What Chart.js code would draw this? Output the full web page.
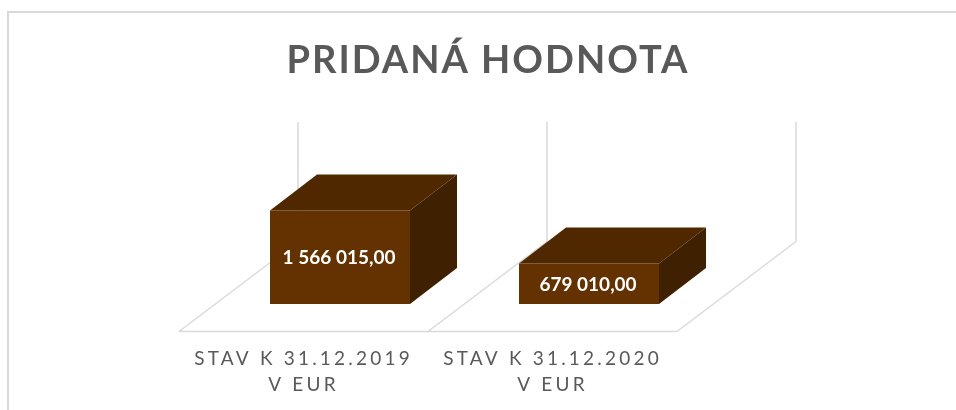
<!DOCTYPE html>
<html><head><meta charset="utf-8">
<style>html,body{margin:0;padding:0;background:#fff;overflow:hidden}canvas{display:block}</style>
<script src="https://cdn.jsdelivr.net/npm/chart.js@4/dist/chart.umd.min.js"></script>
</head><body><canvas id="c" width="956" height="410"></canvas>
<script>
const chartTitle = 'PRIDANÁ HODNOTA';
const categories = [['STAV K 31.12.2019','V EUR'],['STAV K 31.12.2020','V EUR']];
const values = [1566015, 679010];
const valueLabels = ['1 566 015,00','679 010,00'];
const axisMax = 2000000;

const FRONT='#633200', TOP='#4f2800', SIDE='#3f2000', LINE='#d9d9d9', TEXT='#595959';
const barShift=36.5, depthX=47, depthY=36, floorDrop=27.5, wallX=119, wallY=90;

const box3d = {
  id:'box3d',
  beforeDraw(chart){
    const c=chart.ctx;
    c.save();
    c.strokeStyle=LINE; c.lineWidth=2;
    c.beginPath(); c.moveTo(8,410); c.lineTo(8,12); c.lineTo(956,12); c.stroke();
    c.restore();
    c.letterSpacing='2px';
  },
  beforeDatasetsDraw(chart){
    const c=chart.ctx, x=chart.scales.x, y=chart.scales.y;
    const front=y.bottom+floorDrop, back=front-wallY, top=y.getPixelForValue(axisMax)-(wallY-floorDrop);
    const step=x.width/categories.length;
    c.save();
    c.strokeStyle=LINE; c.lineWidth=1.5;
    c.beginPath();
    c.moveTo(x.left,front); c.lineTo(x.right,front);
    for(let i=0;i<=categories.length;i++){
      const px=x.left+i*step;
      c.moveTo(px,front); c.lineTo(px+wallX,back); c.lineTo(px+wallX,top);
    }
    c.stroke();
    c.restore();
    c.save();
    c.translate(barShift,0);
  },
  afterDatasetsDraw(chart){
    const c=chart.ctx;
    chart.getDatasetMeta(0).data.forEach((b,i)=>{
      const l=b.x-b.width/2, r=b.x+b.width/2, t=b.y, u=b.base;
      c.fillStyle=TOP;
      c.beginPath(); c.moveTo(l,t); c.lineTo(l+depthX,t-depthY); c.lineTo(r+depthX,t-depthY); c.lineTo(r,t); c.closePath(); c.fill();
      c.fillStyle=SIDE;
      c.beginPath(); c.moveTo(r,t); c.lineTo(r+depthX,t-depthY); c.lineTo(r+depthX,u-depthY); c.lineTo(r,u); c.closePath(); c.fill();
      c.save();
      c.letterSpacing='0px';
      c.fillStyle='#ffffff';
      c.font='bold 19px Lato';
      c.textAlign='center'; c.textBaseline='middle';
      c.fillText(valueLabels[i],b.x-1,(t+u)/2+1);
      c.restore();
    });
    c.restore();
    c.letterSpacing='3.2px';
  }
};

new Chart(document.getElementById('c'),{
  type:'bar',
  data:{labels:categories,datasets:[{data:values,backgroundColor:FRONT,borderWidth:0,categoryPercentage:1,barPercentage:140/249}]},
  plugins:[box3d],
  options:{
    responsive:false,animation:false,
    layout:{padding:{left:20,right:0,top:0,bottom:0}},
    plugins:{
      legend:{display:false},tooltip:{enabled:false},
      title:{display:true,text:chartTitle,color:TEXT,
        font:{family:'Lato',weight:'bold',size:38,lineHeight:1.2},
        padding:{top:38,bottom:101}}
    },
    scales:{
      x:{
        grid:{display:false,drawTicks:false},border:{display:false},
        ticks:{z:1,color:TEXT,font:{family:'Lato',size:19,lineHeight:1.37},padding:42,maxRotation:0,minRotation:0,autoSkip:false},
        afterFit(s){s.height=106;}
      },
      y:{
        min:0,max:axisMax,position:'left',
        grid:{display:false,drawTicks:false},border:{display:false},ticks:{display:false},
        afterFit(s){s.width=159;}
      },
      y2:{
        min:0,max:axisMax,position:'right',
        grid:{display:false,drawTicks:false},border:{display:false},ticks:{display:false},
        afterFit(s){s.width=279;}
      }
    }
  }
});
</script></body></html>
